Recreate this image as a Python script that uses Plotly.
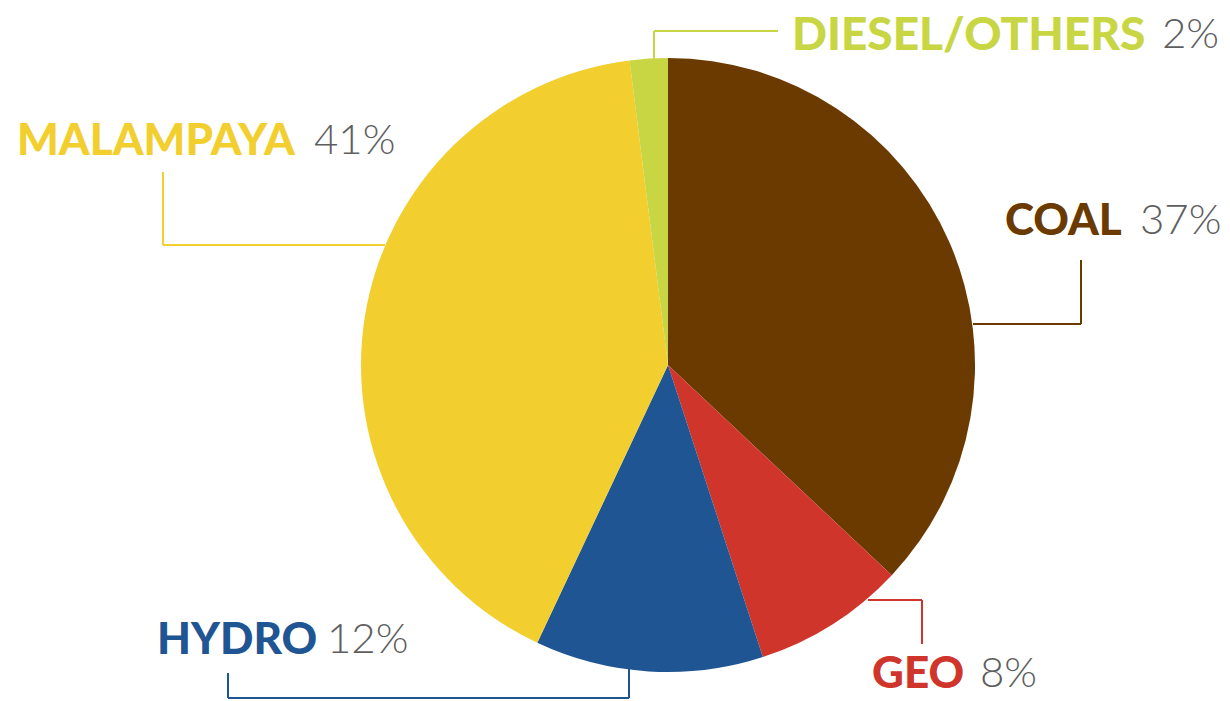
import plotly.graph_objects as go

W, H = 1230, 701

sources = ["COAL", "GEO", "HYDRO", "MALAMPAYA", "DIESEL/OTHERS"]
shares = [37, 8, 12, 41, 2]
colors = ["#6B3A00", "#D0352B", "#1F5593", "#F2CF2F", "#C8D644"]

# label layout (pixels): name left x, percent left x, cap-centre y, name font size
label_pos = {
    "COAL": (1003, 1138, 218, 44),
    "GEO": (870, 978, 671, 44),
    "HYDRO": (155, 325, 637, 44),
    "MALAMPAYA": (15, 312, 138, 44),
    "DIESEL/OTHERS": (790, 1160, 32, 46),
}
# leader lines (pixel polylines)
leaders = {
    "COAL": [(973, 324), (1081, 324), (1081, 260)],
    "GEO": [(868, 600), (922, 600), (922, 644)],
    "HYDRO": [(629, 666), (629, 698), (228, 698), (228, 673)],
    "MALAMPAYA": [(385, 245), (163, 245), (163, 172)],
    "DIESEL/OTHERS": [(654, 60), (654, 31), (778, 31)],
}

def px(x):
    return x / W

def py(y):
    return 1 - y / H

fig = go.Figure(go.Pie(
    labels=sources, values=shares, sort=False, direction="clockwise", rotation=0,
    marker=dict(colors=colors, line=dict(width=0)),
    textinfo="none", hoverinfo="label+percent", showlegend=False,
    domain=dict(x=[px(361), px(975)], y=[py(672), py(58)]),
))

shapes = []
annotations = []
for name, col in zip(sources, colors):
    pts = leaders[name]
    for (x0, y0), (x1, y1) in zip(pts[:-1], pts[1:]):
        shapes.append(dict(type="line", xref="paper", yref="paper",
                           x0=px(x0), y0=py(y0), x1=px(x1), y1=py(y1),
                           line=dict(color=col, width=2)))
    nx, pxl, cy, fs = label_pos[name]
    annotations.append(dict(text=name, x=px(nx), y=py(cy), xref="paper", yref="paper",
                            xanchor="left", yanchor="middle", showarrow=False,
                            font=dict(family="Lato", size=fs, color=col, weight=900)))
    pct = shares[sources.index(name)]
    annotations.append(dict(text=f"{pct}%", x=px(pxl), y=py(cy), xref="paper", yref="paper",
                            xanchor="left", yanchor="middle", showarrow=False,
                            font=dict(family="Lato", size=42, color="#5E5E5E", weight=300)))

fig.update_layout(width=W, height=H, margin=dict(l=0, r=0, t=0, b=0),
                  paper_bgcolor="white", plot_bgcolor="white",
                  shapes=shapes, annotations=annotations)

fig.write_html("out.html")
